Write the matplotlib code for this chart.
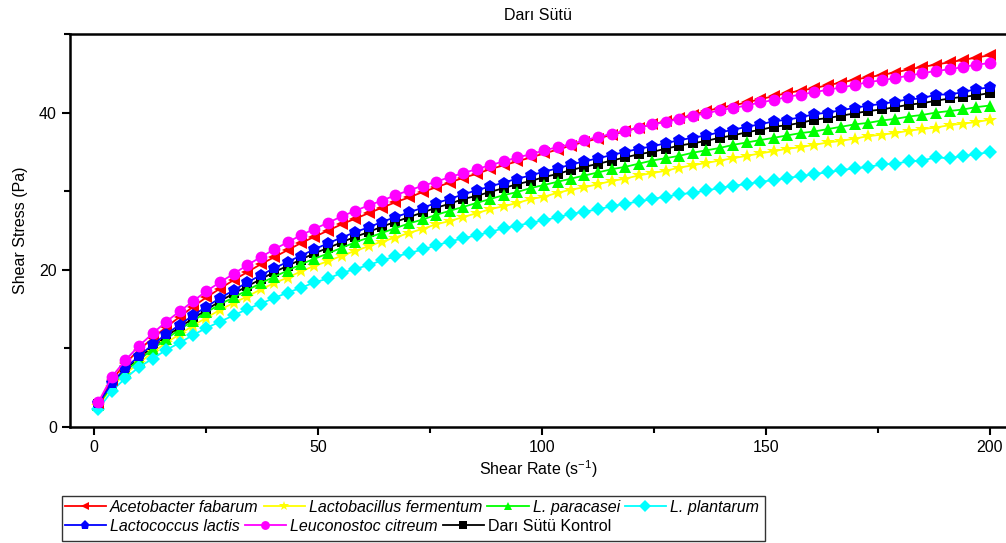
import matplotlib
matplotlib.use("Agg")
import matplotlib.pyplot as plt
from matplotlib.patches import Rectangle
from matplotlib.ticker import MultipleLocator

plt.rcParams['font.family'] = ['Liberation Sans', 'DejaVu Sans']
plt.rcParams['mathtext.default'] = 'regular'

# Shear rate grid (s^-1)
shear_rate = [1.0, 4.0, 7.0, 10.0, 13.1, 16.1, 19.1, 22.1, 25.1, 28.1,
              31.2, 34.2, 37.2, 40.2, 43.2, 46.2, 49.2, 52.3, 55.3, 58.3,
              61.3, 64.3, 67.3, 70.3, 73.4, 76.4, 79.4, 82.4, 85.4, 88.4,
              91.5, 94.5, 97.5, 100.5, 103.5, 106.5, 109.5, 112.6, 115.6, 118.6,
              121.6, 124.6, 127.6, 130.7, 133.7, 136.7, 139.7, 142.7, 145.7, 148.7,
              151.8, 154.8, 157.8, 160.8, 163.8, 166.8, 169.8, 172.9, 175.9, 178.9,
              181.9, 184.9, 187.9, 191.0, 194.0, 197.0, 200.0]

acetobacter = [3.1, 6.0, 8.1, 9.8, 11.3, 12.7, 14.0, 15.3, 16.5, 17.6,
               18.7, 19.7, 20.7, 21.6, 22.5, 23.4, 24.2, 25.0, 25.8, 26.5,
               27.2, 27.9, 28.6, 29.2, 29.9, 30.5, 31.1, 31.7, 32.2, 32.8,
               33.3, 33.8, 34.3, 34.8, 35.3, 35.8, 36.3, 36.7, 37.2, 37.6,
               38.1, 38.5, 38.9, 39.3, 39.7, 40.2, 40.6, 40.9, 41.3, 41.7,
               42.1, 42.5, 42.8, 43.1, 43.5, 43.8, 44.2, 44.5, 44.8, 45.1,
               45.5, 45.8, 46.1, 46.4, 46.7, 47.0, 47.3]

fermentum = [2.7, 5.1, 6.8, 8.1, 9.5, 10.7, 11.8, 12.9, 13.9, 14.9,
             15.8, 16.6, 17.5, 18.3, 19.0, 19.8, 20.5, 21.1, 21.8, 22.4,
             23.0, 23.6, 24.1, 24.7, 25.2, 25.8, 26.2, 26.7, 27.2, 27.7,
             28.1, 28.5, 29.0, 29.3, 29.8, 30.2, 30.5, 30.9, 31.3, 31.6,
             32.0, 32.3, 32.6, 33.0, 33.3, 33.6, 33.9, 34.2, 34.5, 34.8,
             35.1, 35.4, 35.6, 35.9, 36.2, 36.4, 36.7, 37.0, 37.2, 37.4,
             37.7, 37.9, 38.1, 38.4, 38.6, 38.8, 39.1]

paracasei = [2.8, 5.3, 7.1, 8.5, 9.9, 11.2, 12.4, 13.5, 14.6, 15.6,
             16.5, 17.4, 18.3, 19.1, 19.9, 20.7, 21.4, 22.1, 22.8, 23.5,
             24.1, 24.7, 25.3, 25.9, 26.4, 27.0, 27.5, 28.0, 28.5, 29.0,
             29.5, 29.9, 30.4, 30.8, 31.2, 31.6, 32.0, 32.4, 32.8, 33.1,
             33.5, 33.9, 34.2, 34.5, 34.9, 35.2, 35.5, 35.9, 36.2, 36.5,
             36.8, 37.1, 37.4, 37.6, 37.9, 38.2, 38.5, 38.7, 39.0, 39.2,
             39.5, 39.7, 40.0, 40.2, 40.4, 40.7, 40.9]

plantarum = [2.3, 4.6, 6.2, 7.6, 8.7, 9.8, 10.7, 11.7, 12.6, 13.4,
             14.2, 15.0, 15.7, 16.4, 17.1, 17.7, 18.4, 18.9, 19.6, 20.1,
             20.6, 21.2, 21.7, 22.1, 22.6, 23.1, 23.6, 24.0, 24.4, 24.8,
             25.3, 25.6, 26.0, 26.3, 26.7, 27.1, 27.4, 27.7, 28.1, 28.4,
             28.7, 29.0, 29.3, 29.6, 29.8, 30.1, 30.4, 30.7, 30.9, 31.2,
             31.4, 31.7, 31.9, 32.2, 32.4, 32.7, 32.9, 33.1, 33.4, 33.5,
             33.8, 33.9, 34.3, 34.2, 34.5, 34.7, 35.0]

lactis = [3.0, 5.6, 7.5, 9.0, 10.5, 11.8, 13.0, 14.2, 15.3, 16.4,
          17.4, 18.4, 19.3, 20.2, 21.0, 21.8, 22.6, 23.4, 24.1, 24.8,
          25.4, 26.1, 26.7, 27.3, 27.9, 28.5, 29.0, 29.6, 30.1, 30.6,
          31.1, 31.6, 32.0, 32.5, 32.9, 33.4, 33.8, 34.2, 34.6, 35.0,
          35.4, 35.7, 36.1, 36.5, 36.8, 37.1, 37.5, 37.8, 38.2, 38.5,
          38.9, 39.1, 39.4, 39.8, 40.0, 40.3, 40.6, 40.9, 41.1, 41.4,
          41.7, 41.8, 42.3, 42.3, 42.6, 43.0, 43.2]

citreum = [3.2, 6.4, 8.5, 10.3, 11.9, 13.4, 14.7, 16.0, 17.3, 18.4,
           19.5, 20.6, 21.6, 22.6, 23.5, 24.4, 25.2, 26.0, 26.8, 27.5,
           28.2, 28.8, 29.5, 30.1, 30.7, 31.2, 31.8, 32.3, 32.8, 33.3,
           33.8, 34.3, 34.7, 35.2, 35.6, 36.0, 36.5, 36.9, 37.3, 37.7,
           38.1, 38.5, 38.8, 39.2, 39.6, 39.9, 40.3, 40.6, 40.9, 41.3,
           41.6, 42.0, 42.3, 42.6, 42.9, 43.2, 43.5, 43.9, 44.1, 44.4,
           44.7, 45.0, 45.3, 45.5, 45.8, 46.1, 46.3]

kontrol = [2.9, 5.5, 7.3, 8.8, 10.2, 11.5, 12.7, 13.8, 14.9, 16.0,
           17.0, 17.9, 18.8, 19.7, 20.5, 21.3, 22.1, 22.8, 23.5, 24.2,
           24.8, 25.5, 26.1, 26.7, 27.3, 27.9, 28.4, 29.0, 29.4, 29.9,
           30.4, 30.9, 31.3, 31.8, 32.2, 32.7, 33.1, 33.5, 33.9, 34.3,
           34.7, 35.0, 35.4, 35.8, 36.1, 36.4, 36.8, 37.1, 37.5, 37.8,
           38.2, 38.4, 38.7, 39.1, 39.3, 39.6, 39.9, 40.2, 40.4, 40.7,
           41.0, 41.2, 41.5, 41.8, 42.0, 42.2, 42.5]

labels = ['Acetobacter fabarum', 'Lactobacillus fermentum', 'L. paracasei',
          'L. plantarum', 'Lactococcus lactis', 'Leuconostoc citreum',
          'Darı Sütü Kontrol']
series = [acetobacter, fermentum, paracasei, plantarum, lactis, citreum, kontrol]
colors = ['#ff0000', '#ffff00', '#00ff00', '#00ffff', '#0000ff', '#ff00ff', '#000000']
markers = ['<', '*', '^', 'D', 'p', 'o', 's']
msizes = [8.5, 10.5, 8.5, 7.5, 9, 8.5, 7]
zorders = [4, 3, 3, 3, 5, 6, 2]

W, H = 1006, 543
fig = plt.figure(figsize=(W / 100, H / 100), dpi=100)
ax = fig.add_axes([70 / W, 1 - 427 / H, (W - 70) / W, (427 - 34) / H])

lines = []
for y, lab, c, m, ms, z in zip(series, labels, colors, markers, msizes, zorders):
    ln, = ax.plot(shear_rate, y, color=c, marker=m, markersize=ms, lw=1.3,
                  markeredgewidth=0, label=lab, zorder=z)
    lines.append(ln)

ax.set_xlim(-5.36, 203.6)
ax.set_ylim(0, 50)
ax.xaxis.set_major_locator(MultipleLocator(50))
ax.xaxis.set_minor_locator(MultipleLocator(25))
ax.yaxis.set_major_locator(MultipleLocator(20))
ax.yaxis.set_minor_locator(MultipleLocator(10))
ax.tick_params(which='major', direction='out', length=6, width=1.5, labelsize=11.5)
ax.tick_params(which='minor', direction='out', length=4, width=1.5)
for s in ['left', 'bottom', 'top']:
    ax.spines[s].set_linewidth(1.8)
ax.spines['right'].set_visible(False)

ax.set_xlabel('Shear Rate (s$^{-1}$)', fontsize=11.5, labelpad=2)
ax.set_ylabel('Shear Stress (Pa)', fontsize=11.5, labelpad=8)
ax.set_title('Darı Sütü', fontsize=11.5, pad=10)

# Legend (two rows, framed box)
leg_kw = dict(frameon=False, fontsize=11.5, handlelength=2.6, handletextpad=0.25,
              columnspacing=0.3, borderpad=0.1, borderaxespad=0, markerscale=0.75)
leg1 = fig.legend(lines[:4], labels[:4], ncol=4, loc='upper left',
                  bbox_to_anchor=(63 / W, 1 - 498 / H), **leg_kw)
leg2 = fig.legend(lines[4:], labels[4:], ncol=3, loc='upper left',
                  bbox_to_anchor=(63 / W, 1 - 517 / H), **leg_kw)
for t in leg1.get_texts() + leg2.get_texts()[:2]:
    t.set_fontstyle('italic')
fig.patches.append(Rectangle((62 / W, 1 - 541 / H), (765 - 62) / W, 45 / H,
                             transform=fig.transFigure, fill=False,
                             edgecolor='#333333', lw=1.0))

fig.savefig('out.png', dpi=100)
